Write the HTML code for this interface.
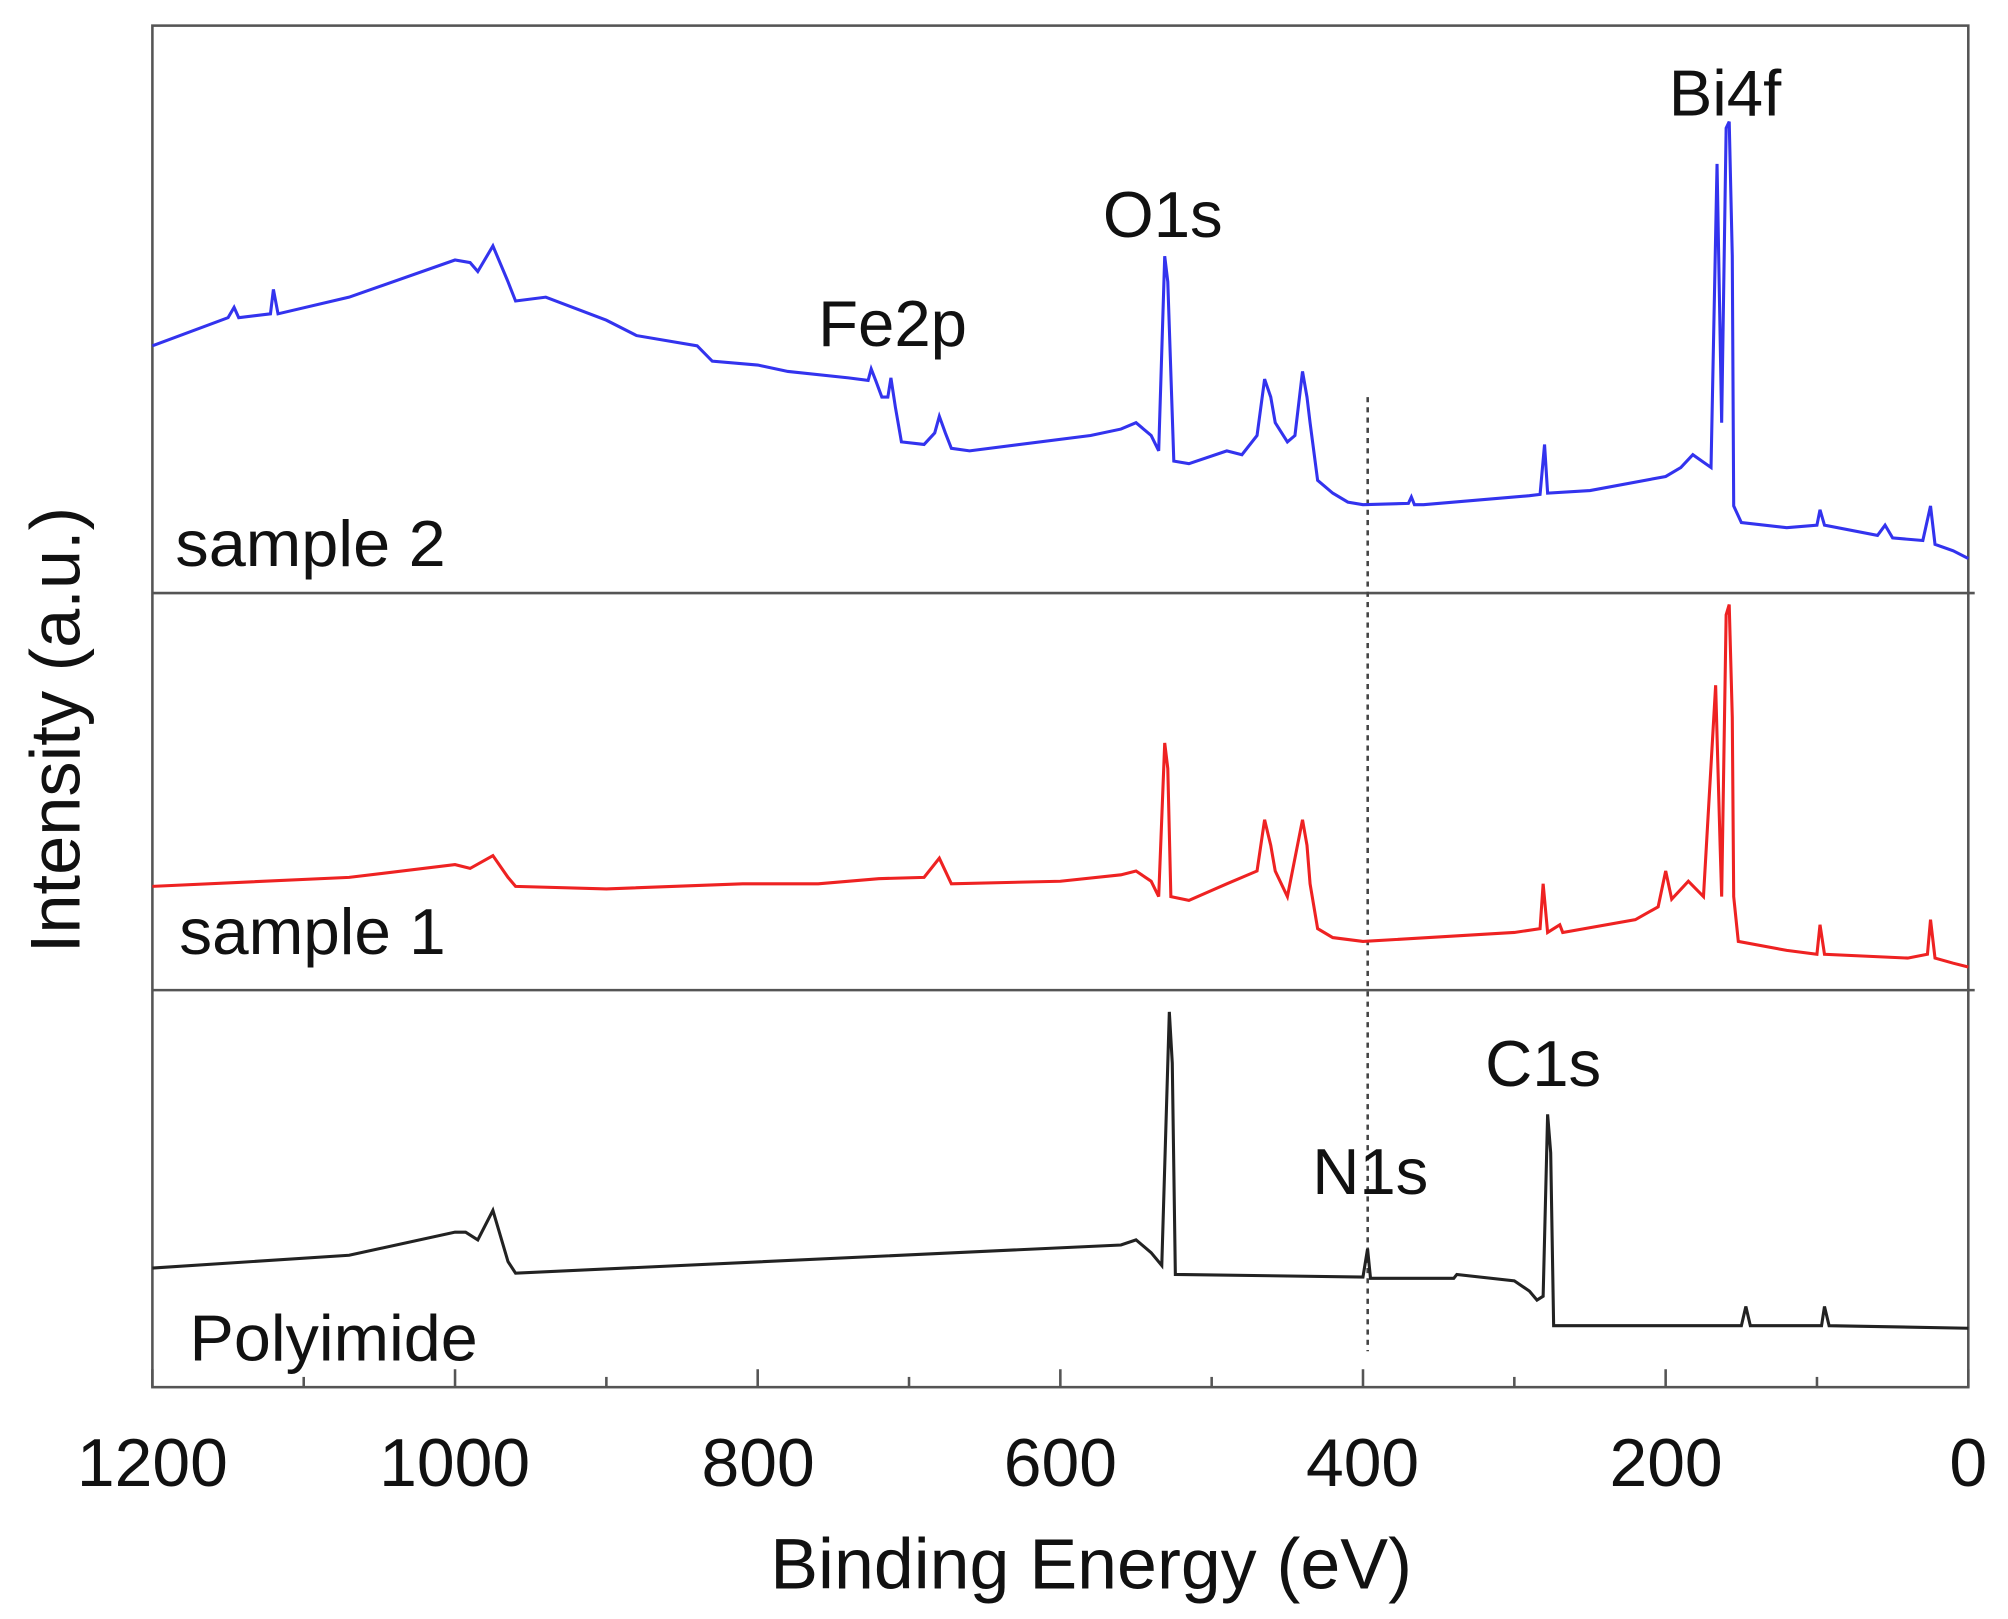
<!DOCTYPE html>
<html><head><meta charset="utf-8"><style>
html,body{margin:0;padding:0;background:#fff;}
svg{display:block;}
text{font-family:"Liberation Sans",Arial,sans-serif;fill:#111;}
</style></head><body>
<svg id="s" width="2008" height="1619" viewBox="0 0 1568 1264" preserveAspectRatio="none" xmlns="http://www.w3.org/2000/svg">
<rect x="119" y="20" width="1418" height="1063" fill="none" stroke="#555" stroke-width="2"/>
<line x1="119" y1="463" x2="1542" y2="463" stroke="#555" stroke-width="2"/>
<line x1="119" y1="773" x2="1542" y2="773" stroke="#555" stroke-width="2"/>
<line x1="1068" y1="310" x2="1068" y2="1055" stroke="#444" stroke-width="2" stroke-dasharray="4,4"/>
<g id="ticks" stroke="#555" stroke-width="2"></g>
<polyline id="p2" fill="none" stroke="#3333ee" stroke-width="2.4"/>
<polyline id="p1" fill="none" stroke="#ee2222" stroke-width="2.4"/>
<polyline id="p0" fill="none" stroke="#222" stroke-width="2.4"/>
<g font-size="51">
<text x="137" y="442" textLength="211" lengthAdjust="spacingAndGlyphs">sample 2</text>
<text x="140" y="745" textLength="208" lengthAdjust="spacingAndGlyphs">sample 1</text>
<text x="148" y="1062" textLength="225" lengthAdjust="spacingAndGlyphs">Polyimide</text>
<text x="697" y="270" text-anchor="middle">Fe2p</text>
<text x="908" y="185" text-anchor="middle">O1s</text>
<text x="1347" y="90" text-anchor="middle">Bi4f</text>
<text x="1205" y="848" text-anchor="middle">C1s</text>
<text x="1070" y="932" text-anchor="middle">N1s</text>
</g>
<g font-size="53" text-anchor="middle">
<text x="119" y="1160">1200</text>
<text x="355" y="1160">1000</text>
<text x="592" y="1160">800</text>
<text x="828" y="1160">600</text>
<text x="1064" y="1160">400</text>
<text x="1301" y="1160">200</text>
<text x="1537" y="1160">0</text>
<text x="852" y="1240" font-size="56">Binding Energy (eV)</text>
<text transform="translate(62,570) rotate(-90)" font-size="55">Intensity (a.u.)</text>
</g>
</svg>
<script>
function X(E){return 119+(1200-E)*1418/1200;}
function set(id,a){var s=[];for(var i=0;i<a.length;i+=2)s.push(X(a[i]).toFixed(1)+","+a[i+1]);document.getElementById(id).setAttribute("points",s.join(" "));}
set("p2",[1200,270,1150,248,1146,240,1143,248,1122,245,1120,226,1117,245,1070,232,1000,203,990,205,985,212,975,192,965,220,960,235,940,232,900,250,880,262,840,270,830,282,800,285,780,290,740,295,727,297,725,288,722,297,718,310,714,310,712,295,709,318,705,345,690,347,683,338,680,325,676,338,672,350,660,352,580,340,560,335,550,330,540,340,535,352,531,200,529,220,525,360,515,362,490,352,480,355,470,340,465,296,461,310,458,330,450,345,445,340,440,290,437,310,435,330,430,375,420,385,410,392,400,394,370,393,368,388,366,394,360,394,290,387,283,386,280,347,278,385,250,383,200,372,190,365,182,355,176,360,170,365,166,128,163,330,160,100,158,95,156,200,155,395,150,408,120,412,100,410,98,398,95,410,60,418,55,410,50,420,30,422,25,395,22,425,10,430,0,436]);
set("p1",[1200,692,1070,685,1000,675,990,678,975,668,965,685,960,692,900,694,810,690,760,690,720,686,690,685,680,670,672,690,600,688,560,683,550,680,540,688,535,700,531,580,529,600,527,700,515,703,490,690,470,680,465,640,461,660,458,680,450,700,440,640,437,660,435,690,430,725,420,732,400,735,300,728,283,725,281,690,278,728,270,722,268,728,220,718,205,708,200,680,196,702,185,688,175,700,167,535,164,660,163,700,160,480,158,472,156,560,155,700,152,735,120,742,100,745,98,722,95,745,40,748,27,745,25,718,22,748,10,752,0,755]);
set("p0",[1200,990,1070,980,1000,962,993,962,985,968,975,945,965,985,960,994,560,972,550,968,540,978,533,988,528,790,526,830,524,995,400,997,397,975,395,998,340,998,338,995,300,1000,290,1008,285,1015,281,1012,278,870,276,900,274,1035,150,1035,147,1020,144,1035,97,1035,95,1020,92,1035,0,1037]);
var g=document.getElementById("ticks"),h="";
for(var E=0;E<=1200;E+=100){var x=X(E),l=(E%200==0)?14:8;h+='<line x1="'+x+'" y1="1083" x2="'+x+'" y2="'+(1083-l)+'"/>';}
g.innerHTML=h;
</script>
</body></html>
